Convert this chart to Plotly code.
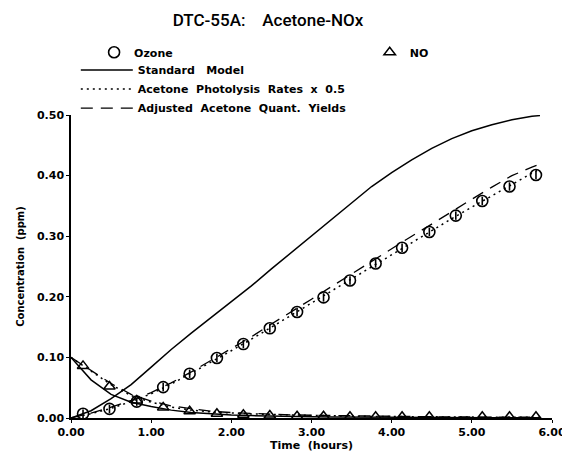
import plotly.graph_objects as go

# ---------------- data ----------------
obs_time = [0.15, 0.48, 0.82, 1.15, 1.48, 1.82, 2.15, 2.48, 2.82, 3.15, 3.48,
            3.80, 4.13, 4.47, 4.80, 5.13, 5.47, 5.80]
obs_ozone = [0.007, 0.015, 0.027, 0.051, 0.073, 0.099, 0.122, 0.148, 0.175,
             0.199, 0.227, 0.255, 0.281, 0.307, 0.334, 0.358, 0.382, 0.401]
obs_no = [0.086, 0.052, 0.029, 0.0175, 0.011, 0.007, 0.0055, 0.004, 0.003,
          0.003, 0.002, 0.002, 0.002, 0.002, None, 0.002, 0.002, 0.002]

model_time = [0.0, 0.25, 0.5, 0.75, 1.0, 1.25, 1.5, 1.75, 2.0, 2.25, 2.5, 2.75,
              3.0, 3.25, 3.5, 3.75, 4.0, 4.25, 4.5, 4.75, 5.0, 5.25, 5.5, 5.75, 5.85]

std_ozone = [0.0, 0.012, 0.032, 0.055, 0.084, 0.113, 0.140, 0.166, 0.192, 0.218,
             0.246, 0.273, 0.300, 0.328, 0.355, 0.382, 0.405, 0.426, 0.445, 0.461,
             0.474, 0.484, 0.492, 0.498, 0.499]
std_no = [0.100, 0.063, 0.039, 0.026, 0.019, 0.013, 0.009, 0.0065, 0.005, 0.004,
          0.003, 0.0025, 0.002, 0.0018, 0.0015, 0.0013, 0.001, 0.0009, 0.0008,
          0.0008, 0.0007, 0.0006, 0.0006, 0.0005, 0.0005]

phot_ozone = [0.0, 0.007, 0.016, 0.027, 0.040, 0.056, 0.074, 0.092, 0.111, 0.130,
              0.150, 0.170, 0.190, 0.210, 0.230, 0.250, 0.270, 0.290, 0.310, 0.329,
              0.348, 0.367, 0.386, 0.404, 0.411]
phot_no = [0.100, 0.077, 0.055, 0.037, 0.026, 0.018, 0.013, 0.010, 0.008, 0.0068,
           0.0058, 0.0048, 0.004, 0.0034, 0.003, 0.0026, 0.0022, 0.002, 0.0018,
           0.0016, 0.0015, 0.0013, 0.0012, 0.0011, 0.001]

adj_ozone = [0.0, 0.008, 0.018, 0.029, 0.042, 0.058, 0.076, 0.095, 0.114, 0.134,
             0.155, 0.175, 0.196, 0.217, 0.238, 0.259, 0.280, 0.300, 0.320, 0.341,
             0.361, 0.381, 0.400, 0.414, 0.419]
adj_no = [0.100, 0.079, 0.057, 0.039, 0.028, 0.020, 0.015, 0.011, 0.009, 0.0075,
          0.0063, 0.0052, 0.0045, 0.0039, 0.0034, 0.003, 0.0026, 0.0023, 0.002,
          0.0018, 0.0017, 0.0015, 0.0014, 0.0013, 0.0012]

x_ticks = [0, 1, 2, 3, 4, 5, 6]
y_ticks = [0.0, 0.1, 0.2, 0.3, 0.4, 0.5]

title_text = "DTC-55A:\u00a0\u00a0\u00a0 Acetone-NOx"
name_ozone = "Ozone"
name_no = "NO"
name_std = "Standard\u00a0\u00a0 Model"
name_phot = "Acetone\u00a0 Photolysis\u00a0 Rates\u00a0 x\u00a0 0.5"
name_adj = "Adjusted\u00a0 Acetone\u00a0 Quant.\u00a0 Yields"

# ---------------- figure ----------------
FONT = "DejaVu Sans"
fig = go.Figure()

line_std = dict(color="black", width=1.5, dash="solid")
line_phot = dict(color="black", width=1.5, dash="2px,4px")
line_adj = dict(color="black", width=1.3, dash="12px,8px")

fig.add_trace(go.Scatter(x=model_time, y=std_ozone, mode="lines", line=line_std,
                         name=name_std, legendgroup="std", legendrank=2))
fig.add_trace(go.Scatter(x=model_time, y=std_no, mode="lines", line=line_std,
                         name=name_std, legendgroup="std", showlegend=False))
fig.add_trace(go.Scatter(x=model_time, y=phot_ozone, mode="lines", line=line_phot,
                         name=name_phot, legendgroup="phot", legendrank=3))
fig.add_trace(go.Scatter(x=model_time, y=phot_no, mode="lines", line=line_phot,
                         name=name_phot, legendgroup="phot", showlegend=False))
fig.add_trace(go.Scatter(x=model_time, y=adj_ozone, mode="lines", line=line_adj,
                         name=name_adj, legendgroup="adj", legendrank=4))
fig.add_trace(go.Scatter(x=model_time, y=adj_no, mode="lines", line=line_adj,
                         name=name_adj, legendgroup="adj", showlegend=False))

# observations
fig.add_trace(go.Scatter(x=obs_time, y=obs_ozone, mode="markers", name=name_ozone,
                         legend="legend3",
                         marker=dict(symbol="circle-open", size=11, color="black",
                                     line=dict(color="black", width=1.6)),
                         cliponaxis=False))
fig.add_trace(go.Scatter(x=obs_time, y=obs_ozone, mode="markers", showlegend=False,
                         hoverinfo="skip",
                         marker=dict(symbol="line-ns-open", size=6, color="black",
                                     line=dict(color="black", width=1.6)),
                         cliponaxis=False))
fig.add_trace(go.Scatter(x=obs_time, y=obs_no, mode="markers", name=name_no,
                         legend="legend2",
                         marker=dict(symbol="triangle-up-open", size=10, color="black",
                                     line=dict(color="black", width=1.5)),
                         cliponaxis=False))

tick_font = dict(family=FONT, size=11, color="black", weight="bold")
leg_font = dict(family=FONT, size=11, color="black", weight="bold")

# page body has an 8px margin: plot area target 70..559 x, 115..418 y (window px)
fig.update_layout(
    width=570, height=459,
    margin=dict(l=62, r=19, t=107, b=49),
    paper_bgcolor="white", plot_bgcolor="white",
    title=dict(text=title_text, x=260 / 570, xref="container", xanchor="center",
               y=1 - 12 / 459, yref="container", yanchor="middle",
               font=dict(family="Roboto", size=17, color="black", weight=500)),
    legend=dict(x=0.01, y=1.196, xanchor="left", yanchor="top",
                font=leg_font, bgcolor="rgba(0,0,0,0)", itemwidth=52,
                traceorder="normal", tracegroupgap=0),
    legend2=dict(x=0.621, y=1.255, xanchor="left", yanchor="top",
                 font=leg_font, bgcolor="rgba(0,0,0,0)", itemwidth=30),
    legend3=dict(x=0.048, y=1.255, xanchor="left", yanchor="top",
                 font=leg_font, bgcolor="rgba(0,0,0,0)", itemwidth=30),
    showlegend=True,
)

fig.update_xaxes(range=[0, 6], tickvals=x_ticks, tickformat=".2f",
                 showgrid=False, zeroline=False, showline=True, linecolor="black",
                 linewidth=1.5, ticks="outside", ticklen=3, tickcolor="black",
                 tickfont=tick_font,
                 title=dict(text="Time\u00a0 (hours)", standoff=2,
                            font=dict(family=FONT, size=11, color="black", weight="bold")))
fig.update_yaxes(range=[0, 0.5], tickvals=y_ticks, tickformat=".2f",
                 showgrid=False, zeroline=False, showline=True, linecolor="black",
                 linewidth=1.5, ticks="outside", ticklen=3, tickcolor="black",
                 tickfont=tick_font,
                 title=dict(text="Concentration\u00a0 (ppm)", standoff=10,
                            font=dict(family=FONT, size=10, color="black", weight="bold")))

fig.write_html("out.html")
